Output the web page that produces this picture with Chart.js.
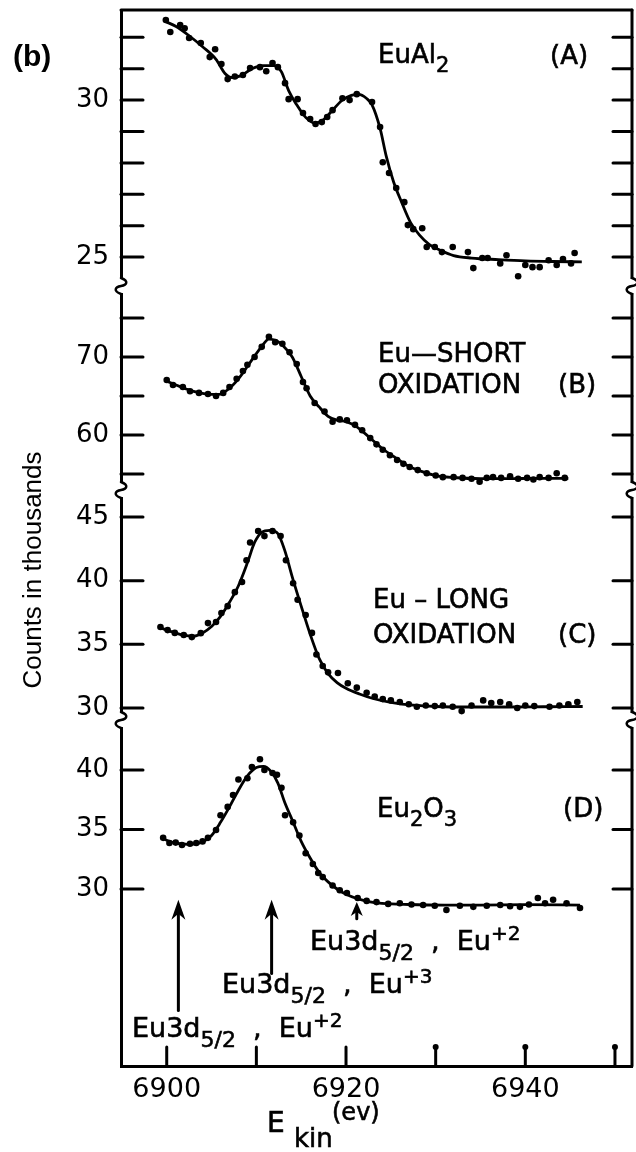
<!DOCTYPE html>
<html><head><meta charset="utf-8">
<script src="https://cdn.jsdelivr.net/npm/chart.js@4.4.1/dist/chart.umd.min.js"></script>
<style>html,body{margin:0;padding:0;background:#fff}canvas{display:block}</style>
</head><body>
<canvas id="c" width="636" height="1152" style="width:636px;height:1152px"></canvas>
<script>
/* DATA */
// (A) EuAl2
const aE=[6899.9,6900.4,6901.5,6902.0,6902.5,6903.8,6904.8,6905.4,6906.1,6906.8,6907.6,6908.5,6909.3,6910.4,6911.1,6911.8,6912.4,6913.2,6913.6,6914.6,6915.2,6916.0,6916.6,6917.3,6917.9,6918.5,6919.6,6920.4,6921.2,6922.9,6923.8,6924.1,6924.8,6925.6,6926.5,6926.9,6927.5,6928.5,6929.0,6929.9,6930.7,6931.9,6933.6,6934.2,6935.2,6935.8,6937.2,6937.9,6939.2,6940.0,6940.8,6941.6,6942.6,6943.5,6944.2,6945.1,6945.5];
const aC=[32.55,32.17,32.39,32.29,31.98,31.82,31.37,31.62,31.15,30.67,30.75,30.80,31.02,31.05,30.92,31.18,31.05,30.54,30.03,30.03,29.59,29.40,29.24,29.30,29.46,29.68,30.06,30.0,30.19,29.94,29.14,28.02,27.68,27.2,26.75,26.02,25.89,25.92,25.32,25.32,25.16,25.32,25.16,24.65,24.97,24.97,24.8,25.06,24.39,24.75,24.68,24.68,24.9,24.75,24.94,24.8,25.13];
const aFitE=[6899.9,6901,6902.5,6904,6905.5,6906.5,6907.3,6908.3,6909.5,6910.8,6912,6912.8,6913.6,6914.5,6915.5,6916.5,6917.5,6918.5,6919.5,6920.6,6921.4,6922.3,6922.9,6923.8,6924.5,6925.3,6926.2,6927.2,6928.2,6929.3,6930.5,6932,6934,6937,6940,6943,6946.3];
const aFitC=[32.5,32.35,32.05,31.7,31.3,30.85,30.72,30.78,31.0,31.1,31.1,30.9,30.3,29.85,29.45,29.27,29.38,29.68,29.98,30.15,30.18,30.05,29.85,29.1,28.2,27.4,26.75,26.1,25.7,25.4,25.22,25.05,24.97,24.92,24.88,24.86,24.85];
// (B) Eu-short oxidation
const bE=[6900.0,6900.7,6901.8,6902.6,6903.6,6904.6,6905.5,6906.3,6907.0,6907.8,6908.5,6909.0,6909.8,6910.6,6911.4,6912.1,6912.9,6913.7,6914.5,6915.2,6915.6,6916.5,6917.6,6918.5,6919.3,6920.1,6921.0,6921.8,6922.7,6923.4,6924.1,6924.9,6925.7,6926.4,6927.1,6928.0,6929.0,6930.0,6930.8,6932.0,6933.0,6934.0,6934.9,6935.7,6936.4,6937.3,6938.3,6939.2,6940.2,6940.9,6941.6,6942.6,6943.5,6944.4];
const bC=[67.05,66.4,66.15,65.6,65.4,65.26,65.0,65.4,66.15,67.2,68.2,69.0,70.0,71.3,72.6,71.9,71.7,70.6,69.1,66.8,66.0,64.1,63.0,61.7,62.0,61.9,61.3,60.6,59.6,58.8,58.1,57.4,56.8,56.3,55.9,55.5,55.1,54.8,54.6,54.6,54.5,54.4,54.0,54.5,54.6,54.5,54.7,54.4,54.5,54.3,54.6,54.5,55.1,54.5];
const bFitE=[6900,6901.5,6903,6904.5,6905.8,6906.8,6908,6909.3,6910.5,6911.4,6912.2,6913,6914,6915,6916,6917,6918,6919,6920,6921,6922,6923,6924,6925.5,6927,6928.5,6930,6932,6935,6938,6941,6944.8];
const bFitC=[66.9,66.2,65.6,65.25,65.2,65.8,67.2,69.3,71.2,72.3,72.1,71.4,70.0,67.5,65.0,63.6,62.4,61.9,61.7,61.2,60.3,59.3,58.3,57.1,56.0,55.3,54.8,54.55,54.4,54.4,54.45,54.45];
// (C) Eu-long oxidation
const cE=[6899.3,6900.1,6900.9,6901.9,6902.8,6903.8,6904.6,6905.5,6906.1,6906.8,6907.6,6908.4,6908.9,6909.3,6910.2,6910.9,6911.8,6912.7,6913.3,6914.1,6914.6,6915.5,6916.2,6916.7,6917.4,6918.0,6919.1,6920.2,6921.2,6922.3,6923.2,6924.1,6925.0,6926.0,6927.0,6927.9,6928.9,6929.9,6930.8,6931.9,6932.9,6934.0,6935.3,6936.2,6937.2,6938.2,6939.1,6940.0,6941.0,6942.7,6943.8,6944.8,6945.8];
const cC=[36.36,36.12,35.9,35.73,35.57,35.88,36.67,36.75,37.46,38.0,39.1,39.9,41.6,43.0,43.9,43.5,43.9,43.5,41.6,39.8,38.5,37.3,35.9,34.2,33.3,32.8,32.75,31.95,31.6,31.2,30.9,30.7,30.6,30.47,30.3,30.1,30.2,30.15,30.2,30.1,29.76,30.2,30.6,30.4,30.47,30.3,30.0,30.2,30.15,30.1,30.2,30.3,30.47];
const cFitE=[6899.3,6900.5,6902,6903,6904,6905,6906,6907,6908,6909,6909.8,6910.6,6911.5,6912.4,6913.2,6914,6915,6916,6917,6918,6919,6920,6921.5,6923,6925,6927.5,6930,6934,6938,6942,6946.4];
const cFitC=[36.3,36.0,35.7,35.65,35.9,36.4,37.2,38.3,39.6,41.4,43.0,43.8,43.95,43.7,42.3,40.3,38.0,35.8,33.9,32.7,32.0,31.55,31.1,30.75,30.45,30.22,30.12,30.08,30.08,30.1,30.12];
// (D) Eu2O3
const dE=[6899.6,6900.3,6901.0,6901.7,6902.6,6903.3,6904.0,6904.6,6905.5,6906.0,6906.8,6907.4,6908.0,6909.0,6909.5,6910.4,6910.9,6911.8,6912.3,6912.8,6913.2,6914.1,6914.8,6915.5,6916.3,6916.9,6917.4,6918.5,6919.3,6920.1,6921.3,6922.3,6923.4,6924.7,6926.0,6927.3,6928.6,6929.9,6931.2,6932.7,6934.2,6935.7,6937.2,6938.3,6939.4,6940.4,6941.4,6942.2,6943.1,6944.6,6946.1];
const dC=[34.3,33.87,33.9,33.7,33.8,33.87,34.0,34.3,34.96,36.2,36.9,37.9,39.2,39.3,40.25,40.9,40.0,39.75,39.6,38.5,36.2,35.6,34.5,33.0,32.1,31.35,31.0,30.3,29.9,29.66,29.24,29.0,28.9,28.75,28.8,28.7,28.66,28.6,28.24,28.6,28.5,28.6,28.66,28.55,28.5,28.7,29.24,28.8,29.1,28.8,28.4];
const dFitE=[6899.6,6901,6902.5,6904,6905,6906,6907,6908,6909,6910,6910.8,6911.6,6912.4,6913.2,6914,6915,6916,6917,6918,6919,6920,6921.2,6922.5,6924,6927,6931,6935,6940,6946.1];
const dFitC=[34.2,33.85,33.75,33.95,34.5,35.6,36.9,38.3,39.5,40.2,40.3,39.9,38.9,37.2,35.8,34.0,32.6,31.4,30.6,30.0,29.55,29.2,28.95,28.8,28.7,28.65,28.65,28.68,28.65];

// axes
const xTicks=[6900,6910,6920,6930,6940,6950];
const xLabels=[6900,6920,6940];
const aTicks=[25,26,27,28,29,30,31,32], aLabels=[25,30];
const bTicks=[55,60,65,70,75], bLabels=[60,70];
const cTicks=[30,35,40,45], cLabels=[30,35,40,45];
const dTicks=[30,35,40], dLabels=[30,35,40];

const FONT='"DejaVu Sans", sans-serif';
const pts=(xs,ys)=>xs.map((x,i)=>({x:x,y:ys[i]}));

function yScale(min,max,weight,ticks,labels){
  return {type:'linear',position:'left',stack:'y',stackWeight:weight,min:min,max:max,
    afterFit(s){s.width=121;s.paddingTop=0;s.paddingBottom=0;},
    afterBuildTicks(s){s.ticks=ticks.map(v=>({value:v}));},
    ticks:{autoSkip:false,padding:12,color:'#000',font:{family:FONT,size:26},callback:v=>labels.includes(v)?String(v):''},
    grid:{drawOnChartArea:false,drawTicks:false},
    border:{display:true,color:'#000',width:3}};
}
function dots(xs,ys,id){return {type:'scatter',data:pts(xs,ys),yAxisID:id,pointRadius:3.3,pointBackgroundColor:'#000',pointBorderWidth:0,showLine:false};}
function fit(xs,ys,id){return {type:'line',data:pts(xs,ys),yAxisID:id,borderColor:'#000',borderWidth:2.8,pointRadius:0,fill:false,cubicInterpolationMode:'monotone'};}

/* DECOR */
function ln(ctx,x1,y1,x2,y2){ctx.beginPath();ctx.moveTo(x1,y1);ctx.lineTo(x2,y2);ctx.stroke();}
function squiggle(ctx,x,y){
  ctx.save();ctx.fillStyle='#fff';ctx.fillRect(x-3,y-7,6,14);
  ctx.lineWidth=2.5;ctx.beginPath();ctx.moveTo(x,y-8);ctx.bezierCurveTo(x+8,y-5,x+6,y-1,x,y);ctx.bezierCurveTo(x-6,y+1,x-8,y+5,x,y+8);ctx.stroke();ctx.restore();
}
function rich(ctx,x,y,parts,size){
  parts.forEach(p=>{
    const t=p[0],k=p[1]||'';
    let s=size,dy=0;
    if(k==='sub'){s=Math.round(size*0.82);dy=size*0.36;}
    if(k==='sup'){s=Math.round(size*0.75);dy=-size*0.38;}
    ctx.font=s+'px '+FONT;
    ctx.fillText(t,x,y+dy);
    ctx.lineWidth=0.6;ctx.strokeText(t,x,y+dy);
    x+=ctx.measureText(t).width;
  });
}
function arrow(ctx,x,yTip,yTail,hl,hw){
  ctx.lineWidth=3;ln(ctx,x,yTip+hl*0.6,x,yTail);
  ctx.beginPath();ctx.moveTo(x,yTip);ctx.lineTo(x+hw,yTip+hl);ctx.lineTo(x,yTip+hl*0.7);ctx.lineTo(x-hw,yTip+hl);ctx.closePath();ctx.fill();
}
const arrows=[{e:6901.3,tip:29.1,tail:19.8,hl:20,hw:7},{e:6911.7,tip:29.1,tail:22.9,hl:20,hw:7},{e:6921.2,tip:28.9,tail:27.5,hl:14,hw:6}];

const decor={id:'decor',
  afterDraw(chart){
    const ctx=chart.ctx,ca=chart.chartArea,sx=chart.scales.x;
    ctx.save();
    ctx.strokeStyle='#000';ctx.fillStyle='#000';ctx.lineCap='round';ctx.lineWidth=3;
    ln(ctx,ca.left,ca.top,ca.right,ca.top);
    ln(ctx,ca.right,ca.top,ca.right,ca.bottom);
    [['yA',aTicks],['yB',bTicks],['yC',cTicks],['yD',dTicks]].forEach(p=>{
      const s=chart.scales[p[0]];
      p[1].forEach(v=>{const y=s.getPixelForValue(v);ln(ctx,ca.left,y,ca.left+22,y);ln(ctx,ca.right,y,ca.right-19,y);});
    });
    xTicks.forEach(v=>{
      const x=sx.getPixelForValue(v);ln(ctx,x,ca.bottom,x,ca.bottom-19);
      if(v>=6930){ctx.beginPath();ctx.arc(x,ca.bottom-19,3,0,Math.PI*2);ctx.fill();}
    });
    ['yA','yB','yC'].forEach(id=>{const y=chart.scales[id].bottom;squiggle(ctx,ca.left,y);squiggle(ctx,ca.right,y);});
    // arrows
    const sd=chart.scales.yD;
    arrows.forEach(a=>arrow(ctx,sx.getPixelForValue(a.e),sd.getPixelForValue(a.tip),sd.getPixelForValue(a.tail),a.hl,a.hw));
    // texts
    ctx.textBaseline='alphabetic';ctx.textAlign='left';
    rich(ctx,378,63,[['EuAl'],['2','sub']],26);
    rich(ctx,550,64,[['(A)']],26);
    rich(ctx,378,362,[['Eu—SHORT']],26);
    rich(ctx,378,393,[['OXIDATION']],26);
    rich(ctx,558,393,[['(B)']],26);
    rich(ctx,373,608,[['Eu – LONG']],26);
    rich(ctx,373,643,[['OXIDATION']],26);
    rich(ctx,558,643,[['(C)']],26);
    rich(ctx,377,817,[['Eu'],['2','sub'],['O'],['3','sub']],26);
    rich(ctx,563,817,[['(D)']],26);
    const ann=[['Eu3d'],['5/2','sub'],['  ,  '],['Eu'],['+2','sup']];
    rich(ctx,310,950,ann,27);
    rich(ctx,222,993,[['Eu3d'],['5/2','sub'],['  ,  '],['Eu'],['+3','sup']],27);
    rich(ctx,132,1037,ann,27);
    // axis titles
    rich(ctx,267,1132,[['E']],28);
    rich(ctx,294,1147,[['kin']],26);
    rich(ctx,332,1120,[['(ev)']],24);
    ctx.font='bold 30px "Liberation Sans", Arial, sans-serif';
    ctx.fillText('(b)',13,66);
    ctx.translate(34,570);ctx.rotate(-Math.PI/2);
    ctx.textAlign='center';ctx.textBaseline='middle';
    ctx.font='26px "Liberation Sans", Arial, sans-serif';
    ctx.fillText('Counts in thousands',0,0);
    ctx.restore();
  }};

new Chart(document.getElementById('c'),{
  type:'line',
  data:{datasets:[
    dots(aE,aC,'yA'),fit(aFitE,aFitC,'yA'),
    dots(bE,bC,'yB'),fit(bFitE,bFitC,'yB'),
    dots(cE,cC,'yC'),fit(cFitE,cFitC,'yC'),
    dots(dE,dC,'yD'),fit(dFitE,dFitC,'yD')
  ]},
  options:{
    responsive:false,animation:false,devicePixelRatio:1,
    layout:{padding:{top:10,right:4,left:0,bottom:0}},
    plugins:{legend:{display:false},tooltip:{enabled:false},title:{display:false}},
    scales:{
      x:{type:'linear',position:'bottom',min:6894.9,max:6951.9,
        afterFit(s){s.height=86;s.paddingLeft=0;s.paddingRight=0;},
        afterBuildTicks(s){s.ticks=xTicks.map(v=>({value:v}));},
        ticks:{autoSkip:false,maxRotation:0,padding:8,color:'#000',font:{family:FONT,size:27},callback:v=>xLabels.includes(v)?String(v):''},
        grid:{drawOnChartArea:false,drawTicks:false},
        border:{display:true,color:'#000',width:3}},
      // stacked panels are placed bottom-first in definition order reversed, so list D..A
      yD:yScale(15.13,44.2,346,dTicks,dLabels),
      yC:yScale(29.06,47.12,230,cTicks,cLabels),
      yB:yScale(52.95,79.1,204,bTicks,bLabels),
      yA:yScale(24.08,32.87,276,aTicks,aLabels)
    }
  },
  plugins:[decor]
});
</script></body></html>
